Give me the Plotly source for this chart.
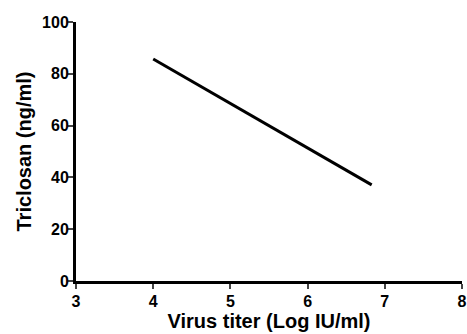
import plotly.graph_objects as go

virus_titer = [4.0, 6.83]
triclosan = [85.7, 37.1]

x_ticks = [3, 4, 5, 6, 7, 8]
y_ticks = [0, 20, 40, 60, 80, 100]

fig = go.Figure()
fig.add_trace(go.Scatter(x=virus_titer, y=triclosan, mode="lines",
                         line=dict(color="black", width=3), showlegend=False))

tf = dict(size=16, family="Liberation Sans", color="black", weight="bold")
fig.update_layout(
    width=467, height=334,
    margin=dict(l=76, r=5, t=22, b=53),
    paper_bgcolor="white", plot_bgcolor="white",
    font=dict(family="Liberation Sans, Arial, sans-serif", color="black"),
    xaxis=dict(range=[3, 8], tickvals=x_ticks, ticks="outside", ticklen=5, tickwidth=2,
               showline=True, linewidth=3, linecolor="black", showgrid=False, zeroline=False,
               automargin=False, tickfont=tf, ticklabeloverflow="allow", ticklabelstandoff=-1,
               title=dict(text="<b>Virus titer (Log IU/ml)</b>", font=dict(size=20), standoff=2)),
    yaxis=dict(range=[0, 100], tickvals=y_ticks, ticks="outside", ticklen=5, tickwidth=2,
               showline=True, linewidth=3, linecolor="black", showgrid=False, zeroline=False,
               automargin=False, tickfont=tf, ticklabeloverflow="allow", ticklabelstandoff=-4,
               title=dict(text="<b>Triclosan (ng/ml)</b>", font=dict(size=20), standoff=6)),
)
fig.write_html("out.html", config={"displayModeBar": False},
               post_script="document.body.style.margin='0';")
